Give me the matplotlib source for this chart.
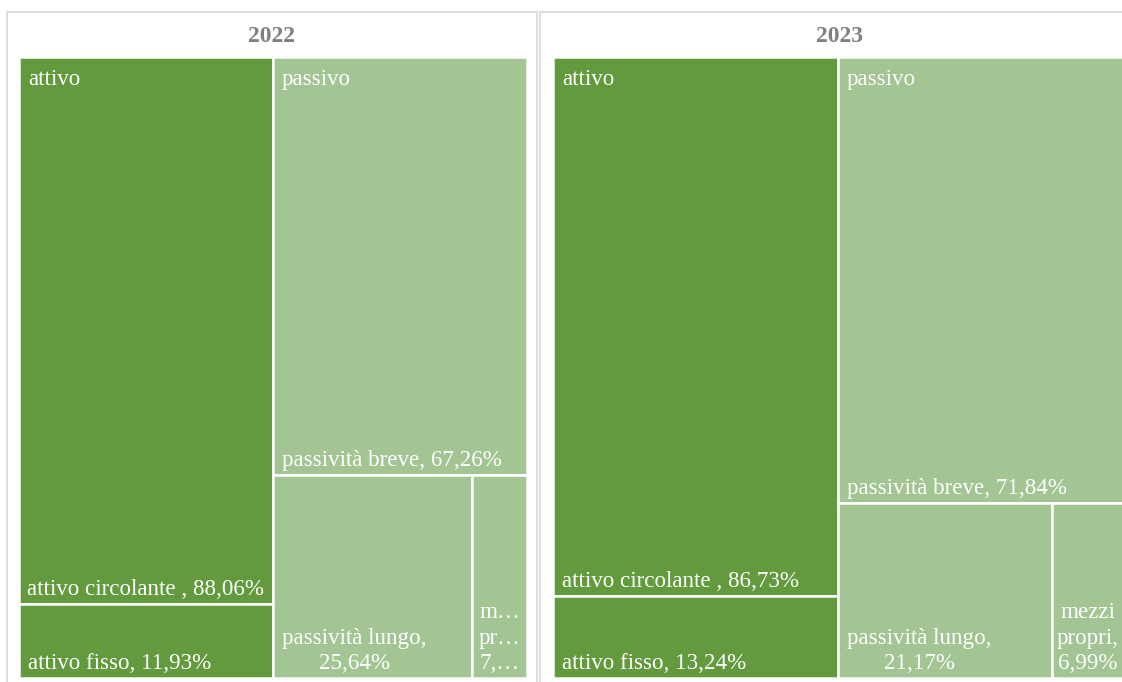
import matplotlib
matplotlib.use("Agg")
import matplotlib.pyplot as plt
from matplotlib.patches import Rectangle
from matplotlib.font_manager import FontProperties
from matplotlib.backends.backend_agg import RendererAgg

# ---- data -------------------------------------------------------------
years = ["2022", "2023"]
groups = ["attivo", "passivo"]
attivo_names = ["attivo circolante ", "attivo fisso"]
passivo_names = ["passività breve", "passività lungo", "mezzi propri"]
attivo_2022 = [88.06, 11.93]
passivo_2022 = [67.26, 25.64, 7.10]
attivo_2023 = [86.73, 13.24]
passivo_2023 = [71.84, 21.17, 6.99]

# ---- style ------------------------------------------------------------
W, H, DPI = 1122, 682, 100
DARK = "#629A3D"
LIGHT = "#A3C493"
TITLE_COLOR = "#7F7F7F"
BORDER = "#DEDEDE"
SERIF = "Liberation Serif"
LABEL_SIZE = 16.6
TITLE_SIZE = 17
PAD = 9
LINESPACING = 1.28

fig = plt.figure(figsize=(W / DPI, H / DPI), dpi=DPI)
ax = fig.add_axes([0, 0, 1, 1])
ax.set_xlim(0, W)
ax.set_ylim(H, 0)
ax.axis("off")

renderer = RendererAgg(W, H, DPI)
label_prop = FontProperties(family=SERIF, size=LABEL_SIZE)


def text_width(s):
    w, _, _ = renderer.get_text_width_height_descent(s, label_prop, ismath=False)
    return w


def fit_label(text, max_w):
    """Wrap words into lines that fit max_w; shorten any too-long word with an ellipsis."""
    if text_width(text) <= max_w:
        return [text]
    lines, cur = [], ""
    for word in text.split():
        cand = (cur + " " + word).strip()
        if text_width(cand) <= max_w:
            cur = cand
            continue
        if cur:
            lines.append(cur)
        cur = word
        if text_width(cur) > max_w:
            k = len(cur)
            while k > 1 and text_width(cur[:k] + "…") > max_w:
                k -= 1
            lines.append(cur[:k] + "…")
            cur = ""
    if cur:
        lines.append(cur)
    return lines


def worst(row, side):
    s = sum(row)
    return max(max(side * side * r / (s * s), s * s / (side * side * r)) for r in row)


def squarify(values, x, y, w, h):
    total = sum(values)
    areas = [v * w * h / total for v in values]
    rects, i = [], 0
    while i < len(areas):
        side = min(w, h)
        row, j = [areas[i]], i + 1
        while j < len(areas) and worst(row + [areas[j]], side) <= worst(row, side):
            row.append(areas[j])
            j += 1
        s = sum(row)
        if w >= h:
            cw, cy = s / h, y
            for a in row:
                rects.append((x, cy, cw, a / cw))
                cy += a / cw
            x, w = x + cw, w - cw
        else:
            rh, cx = s / w, x
            for a in row:
                rects.append((cx, y, a / rh, rh))
                cx += a / rh
            y, h = y + rh, h - rh
        i = j
    return rects


def fmt(v):
    return f"{v:.2f}".replace(".", ",") + "%"


def draw_panel(title, box, area, series):
    bx0, by0, bx1, by1 = box
    ax.add_patch(Rectangle((bx0, by0), bx1 - bx0, by1 - by0, facecolor="white",
                           edgecolor=BORDER, linewidth=1.5, zorder=0))
    ax.text((bx0 + bx1) / 2, 42, title, ha="center", va="baseline", family=SERIF,
            fontsize=TITLE_SIZE, fontweight="bold", color=TITLE_COLOR)
    x0, y0, tw, th = area
    totals = [sum(v) for _, _, v, _ in series]
    gx = x0
    for (gname, names, vals, color), gt in zip(series, totals):
        gw = tw * gt / sum(totals)
        for (rx, ry, rw, rh), name, v in zip(squarify(vals, gx, y0, gw, th), names, vals):
            ax.add_patch(Rectangle((rx, ry), rw, rh, facecolor=color,
                                   edgecolor="white", linewidth=1.8, zorder=1))
            lines = fit_label(f"{name}, {fmt(v)}", rw - 4)
            block_w = max(text_width(s) for s in lines)
            lx = rx + min(PAD, max(2, (rw - block_w) / 2))
            ax.text(lx, ry + rh - 9, "\n".join(lines), ha="left", va="baseline",
                    multialignment="center", linespacing=LINESPACING, family=SERIF,
                    fontsize=LABEL_SIZE, color="white", zorder=3)
        ax.text(gx + PAD, y0 + 28, gname, ha="left", va="baseline", family=SERIF,
                fontsize=LABEL_SIZE, color="white", zorder=3)
        gx += gw


draw_panel(years[0], (7, 12, 537, 700), (19, 57, 508, 621),
           [(groups[0], attivo_names, attivo_2022, DARK),
            (groups[1], passivo_names, passivo_2022, LIGHT)])
draw_panel(years[1], (540, 12, 1140, 700), (553, 57, 570, 621),
           [(groups[0], attivo_names, attivo_2023, DARK),
            (groups[1], passivo_names, passivo_2023, LIGHT)])

fig.savefig("out.png", dpi=DPI, facecolor="white")
